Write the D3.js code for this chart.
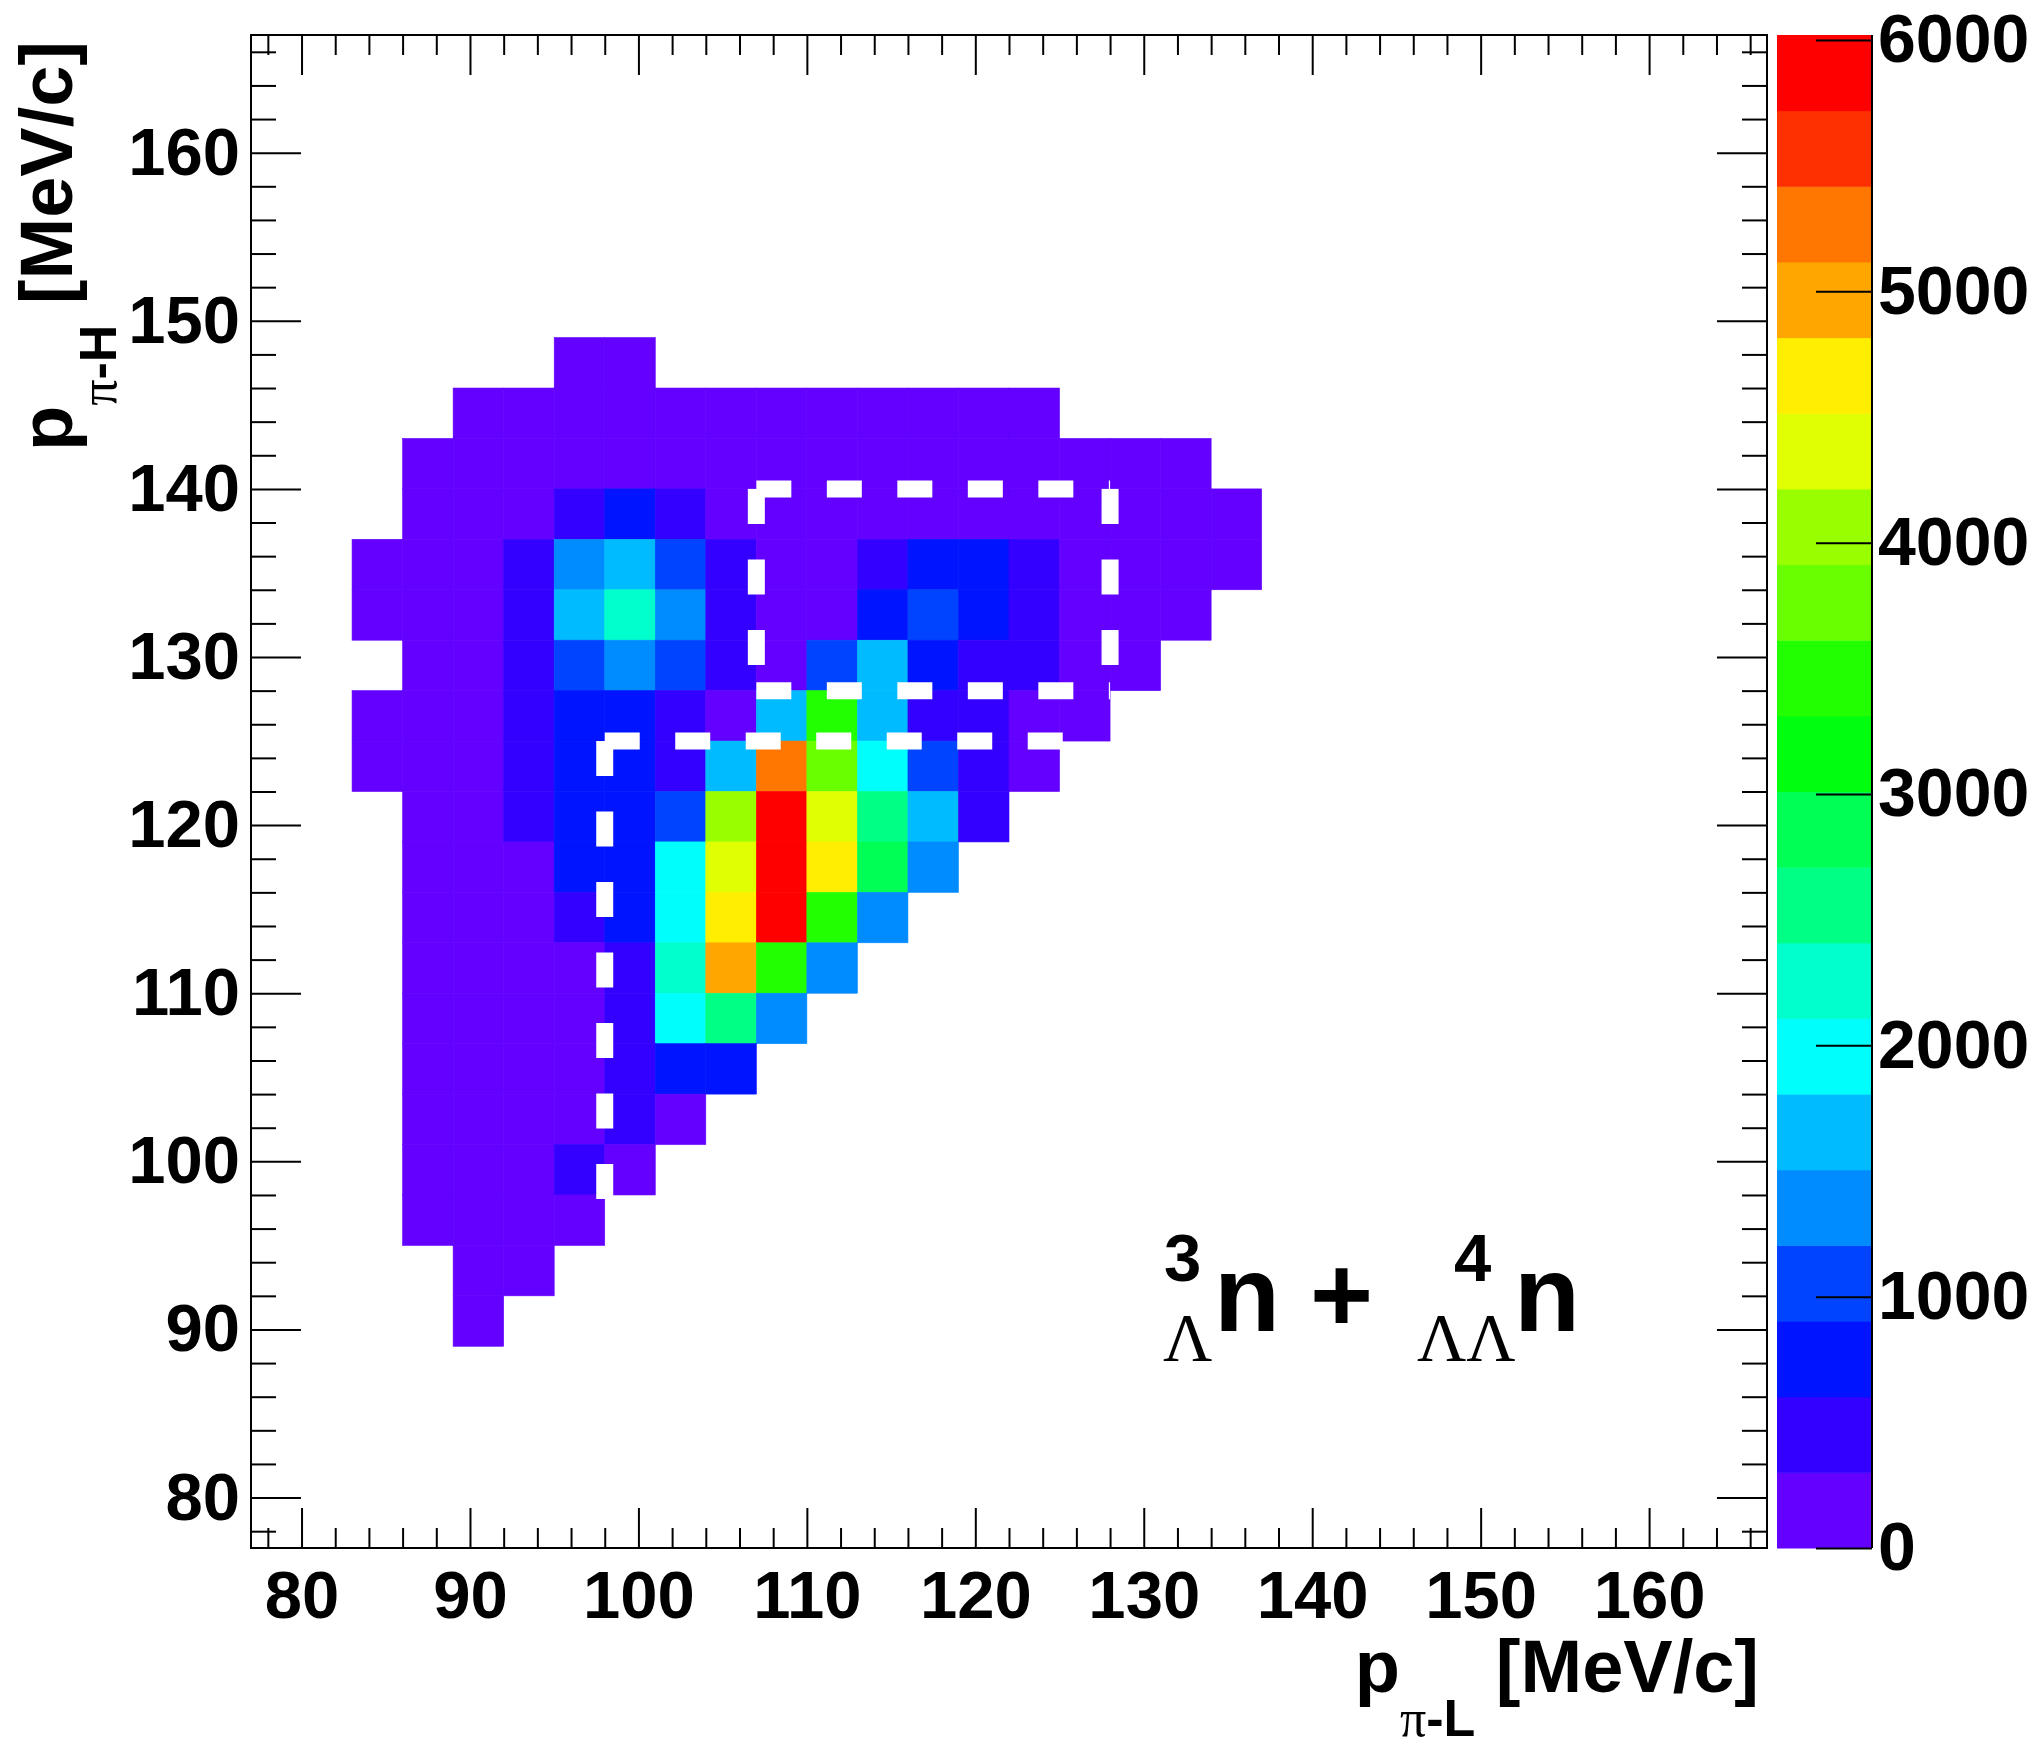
<!DOCTYPE html>
<html lang="en">
	<head>
		<meta charset="UTF-8" />
		<title>p pi-H vs p pi-L</title>
		<script src="https://d3js.org/d3.v7.min.js"></script>
		<style>
			body {
				margin: 0;
				background: #fff;
			}
			svg {
				display: block;
			}
		</style>
	</head>
	<body>
		<svg
			id="svg"
			width="2040"
			height="1752"
			font-family="Liberation Sans, Arial, sans-serif"
			font-weight="bold"
		></svg>
		<script>
			// bin lower edges in MeV/c, all bins are 3 MeV/c wide
			const binWidth = 3;
			const xBins = [83, 86, 89, 92, 95, 98, 101, 104, 107, 110, 113, 116, 119, 122, 125, 128, 131, 134];
			const yBins = [146, 143, 140, 137, 134, 131, 128, 125, 122, 119, 116, 113, 110, 107, 104, 101, 98, 95, 92, 89];

			// counts per bin, one row per yBins entry (top to bottom), 0 = empty
			const counts = [
				[0, 0, 0, 0, 60, 70, 0, 0, 0, 0, 0, 0, 0, 0, 0, 0, 0, 0],
				[0, 0, 90, 140, 180, 200, 190, 160, 150, 140, 130, 120, 100, 80, 0, 0, 0, 0],
				[0, 70, 150, 220, 260, 280, 270, 250, 230, 220, 210, 200, 180, 150, 110, 90, 60, 0],
				[0, 110, 200, 280, 470, 720, 440, 290, 270, 260, 250, 240, 230, 200, 160, 120, 90, 50],
				[60, 150, 240, 420, 1380, 1700, 1080, 410, 280, 290, 420, 760, 740, 430, 230, 150, 100, 40],
				[70, 160, 260, 460, 1620, 2280, 1390, 430, 270, 290, 790, 1050, 780, 400, 240, 140, 70, 0],
				[0, 150, 250, 430, 1020, 1320, 1060, 470, 290, 1090, 1680, 760, 450, 420, 230, 110, 0, 0],
				[80, 170, 270, 480, 760, 740, 460, 280, 1690, 3520, 1660, 440, 410, 260, 130, 0, 0, 0],
				[60, 160, 270, 470, 780, 770, 470, 1610, 5330, 3780, 1990, 1040, 430, 210, 0, 0, 0, 0],
				[0, 150, 260, 440, 790, 780, 1080, 4120, 6020, 4420, 2600, 1640, 420, 0, 0, 0, 0, 0],
				[0, 140, 240, 290, 740, 790, 1980, 4400, 5990, 4700, 2870, 1360, 0, 0, 0, 0, 0, 0],
				[0, 130, 230, 270, 460, 750, 1950, 4690, 5950, 3500, 1330, 0, 0, 0, 0, 0, 0, 0],
				[0, 120, 220, 260, 270, 470, 2270, 5000, 3490, 1340, 0, 0, 0, 0, 0, 0, 0, 0],
				[0, 110, 200, 240, 250, 440, 1960, 2570, 1370, 0, 0, 0, 0, 0, 0, 0, 0, 0],
				[0, 100, 190, 220, 230, 430, 740, 720, 0, 0, 0, 0, 0, 0, 0, 0, 0, 0],
				[0, 90, 170, 200, 210, 410, 240, 0, 0, 0, 0, 0, 0, 0, 0, 0, 0, 0],
				[0, 80, 150, 180, 420, 230, 0, 0, 0, 0, 0, 0, 0, 0, 0, 0, 0, 0],
				[0, 60, 130, 150, 170, 0, 0, 0, 0, 0, 0, 0, 0, 0, 0, 0, 0, 0],
				[0, 0, 90, 110, 0, 0, 0, 0, 0, 0, 0, 0, 0, 0, 0, 0, 0, 0],
				[0, 0, 60, 0, 0, 0, 0, 0, 0, 0, 0, 0, 0, 0, 0, 0, 0, 0],
			];

			const axisRange = [77, 167];
			const xTicks = [80, 90, 100, 110, 120, 130, 140, 150, 160];
			const yTicks = [80, 90, 100, 110, 120, 130, 140, 150, 160];
			const zTicks = [0, 1000, 2000, 3000, 4000, 5000, 6000];
			const zMax = 6020;
			const nLevels = 20;

			// cut boundaries (white dashed), each segment starts at its top/left end
			const cutLines = [
				[[107, 140], [128, 140]],
				[[128, 140], [128, 128]],
				[[107, 140], [107, 128]],
				[[107, 128], [128, 128]],
				[[98, 125], [126, 125]],
				[[98, 125], [98, 97]],
			];

			const svg = d3.select("svg");
			const frame = { left: 251, right: 1767, top: 35, bottom: 1548 };
			const bar = { left: 1777, right: 1872 };
			const sans = "Liberation Sans, Arial, sans-serif";
			const serif = "Liberation Serif, Times New Roman, serif";

			const x = d3.scaleLinear().domain(axisRange).range([frame.left, frame.right]);
			const y = d3.scaleLinear().domain(axisRange).range([frame.bottom, frame.top]);
			const z = d3.scaleLinear().domain([0, zMax]).range([frame.bottom, frame.top]);

			// ROOT "pretty" palette (violet -> red), 20 contour levels picked out of 50
			const palette = d3.range(nLevels).map((c) => {
				const i = Math.floor(((c + 0.99) * 50) / nLevels);
				const hue = i < 49 ? 280 - (i + 1) * 5.6 : 0;
				return d3.hsl(hue, 1, 0.5).formatHex();
			});
			const color = d3.scaleQuantize().domain([0, zMax]).range(palette);

			const cells = [];
			yBins.forEach((y0, r) => {
				xBins.forEach((x0, c) => {
					const v = counts[r][c];
					if (v > 0) cells.push({ x0, y0, v });
				});
			});

			svg.append("g")
				.selectAll("rect")
				.data(cells)
				.join("rect")
				.attr("x", (d) => x(d.x0))
				.attr("y", (d) => y(d.y0 + binWidth))
				.attr("width", (d) => x(d.x0 + binWidth) - x(d.x0))
				.attr("height", (d) => y(d.y0) - y(d.y0 + binWidth))
				.attr("fill", (d) => color(d.v))
				.attr("stroke", (d) => color(d.v))
				.attr("stroke-width", 0.6);

			// dashed cuts
			const line = d3.line().x((d) => x(d[0])).y((d) => y(d[1]));
			svg.append("g")
				.selectAll("path")
				.data(cutLines)
				.join("path")
				.attr("d", line)
				.attr("fill", "none")
				.attr("stroke", "#fff")
				.attr("stroke-width", 17)
				.attr("stroke-dasharray", "35 35.5");

			// axes: ticks point into the frame on all four sides
			const minorX = d3.range(78, 167, 2).filter((v) => v % 10 !== 0);
			const minorY = minorX;
			const styleAxis = (g, size) => {
				g.select(".domain").remove();
				g.selectAll("line").attr("stroke", "#000").attr("stroke-width", 2);
				g.attr("font-family", sans).attr("font-size", size).attr("font-weight", "bold");
			};

			svg.append("g")
				.attr("transform", `translate(0,${frame.bottom})`)
				.call(d3.axisBottom(x).tickValues(xTicks).tickSizeInner(-40).tickSizeOuter(0).tickPadding(22))
				.call((g) => styleAxis(g, 67));
			svg.append("g")
				.attr("transform", `translate(0,${frame.bottom})`)
				.call(d3.axisBottom(x).tickValues(minorX).tickSizeInner(-20).tickSizeOuter(0).tickFormat(""))
				.call((g) => styleAxis(g, 10));
			svg.append("g")
				.attr("transform", `translate(0,${frame.top})`)
				.call(d3.axisTop(x).tickValues(xTicks).tickSizeInner(-40).tickSizeOuter(0).tickFormat(""))
				.call((g) => styleAxis(g, 10));
			svg.append("g")
				.attr("transform", `translate(0,${frame.top})`)
				.call(d3.axisTop(x).tickValues(minorX).tickSizeInner(-20).tickSizeOuter(0).tickFormat(""))
				.call((g) => styleAxis(g, 10));

			svg.append("g")
				.attr("transform", `translate(${frame.left},0)`)
				.call(d3.axisLeft(y).tickValues(yTicks).tickSizeInner(-50).tickSizeOuter(0).tickPadding(11))
				.call((g) => styleAxis(g, 67));
			svg.append("g")
				.attr("transform", `translate(${frame.left},0)`)
				.call(d3.axisLeft(y).tickValues(minorY).tickSizeInner(-25).tickSizeOuter(0).tickFormat(""))
				.call((g) => styleAxis(g, 10));
			svg.append("g")
				.attr("transform", `translate(${frame.right},0)`)
				.call(d3.axisRight(y).tickValues(yTicks).tickSizeInner(-50).tickSizeOuter(0).tickFormat(""))
				.call((g) => styleAxis(g, 10));
			svg.append("g")
				.attr("transform", `translate(${frame.right},0)`)
				.call(d3.axisRight(y).tickValues(minorY).tickSizeInner(-25).tickSizeOuter(0).tickFormat(""))
				.call((g) => styleAxis(g, 10));

			svg.append("rect")
				.attr("x", frame.left)
				.attr("y", frame.top)
				.attr("width", frame.right - frame.left)
				.attr("height", frame.bottom - frame.top)
				.attr("fill", "none")
				.attr("stroke", "#000")
				.attr("stroke-width", 2);

			// colour bar
			svg.append("g")
				.selectAll("rect")
				.data(d3.range(nLevels))
				.join("rect")
				.attr("x", bar.left)
				.attr("y", (k) => z(((k + 1) * zMax) / nLevels))
				.attr("width", bar.right - bar.left)
				.attr("height", (k) => z((k * zMax) / nLevels) - z(((k + 1) * zMax) / nLevels) + 0.5)
				.attr("fill", (k) => palette[k]);

			svg.append("g")
				.attr("transform", `translate(${bar.right},0)`)
				.call(
					d3.axisRight(z)
						.tickValues(zTicks)
						.tickFormat(d3.format("d"))
						.tickSizeInner(-56)
						.tickSizeOuter(0)
						.tickPadding(6)
				)
				.call((g) => styleAxis(g, 68));
			svg.append("line")
				.attr("x1", bar.right)
				.attr("x2", bar.right)
				.attr("y1", frame.top)
				.attr("y2", frame.bottom)
				.attr("stroke", "#000")
				.attr("stroke-width", 2);

			// axis titles
			const addTitle = (sel, sub) => {
				sel.attr("font-size", 74);
				sel.append("tspan").text("p");
				sel.append("tspan")
					.attr("dy", 44)
					.attr("font-size", 52)
					.attr("font-family", serif)
					.attr("font-weight", "normal")
					.text("π");
				sel.append("tspan").attr("font-size", 52).text("-" + sub);
				sel.append("tspan").attr("dy", -44).text("\u00a0[MeV/c]");
			};
			svg.append("text")
				.attr("x", 1759)
				.attr("y", 1692)
				.attr("text-anchor", "end")
				.call((t) => addTitle(t, "L"));
			svg.append("text")
				.attr("transform", "translate(72,41) rotate(-90)")
				.attr("text-anchor", "end")
				.call((t) => addTitle(t, "H"));

			// label: 3_Λ n + 4_ΛΛ n
			const label = svg.append("g");
			const sup = (tx, ty, s) =>
				label.append("text").attr("x", tx).attr("y", ty).attr("font-size", 67).text(s);
			const lam = (tx, ty, s) =>
				label.append("text")
					.attr("x", tx)
					.attr("y", ty)
					.attr("font-size", 68)
					.attr("font-family", serif)
					.attr("font-weight", "normal")
					.text(s);
			sup(1164, 1281, "3");
			lam(1163, 1360, "Λ");
			label.append("text").attr("x", 1214).attr("y", 1331).attr("font-size", 108).text("n\u00a0+");
			sup(1454, 1281, "4");
			lam(1417, 1360, "ΛΛ");
			label.append("text").attr("x", 1514).attr("y", 1331).attr("font-size", 108).text("n");
		</script>
	</body>
</html>
